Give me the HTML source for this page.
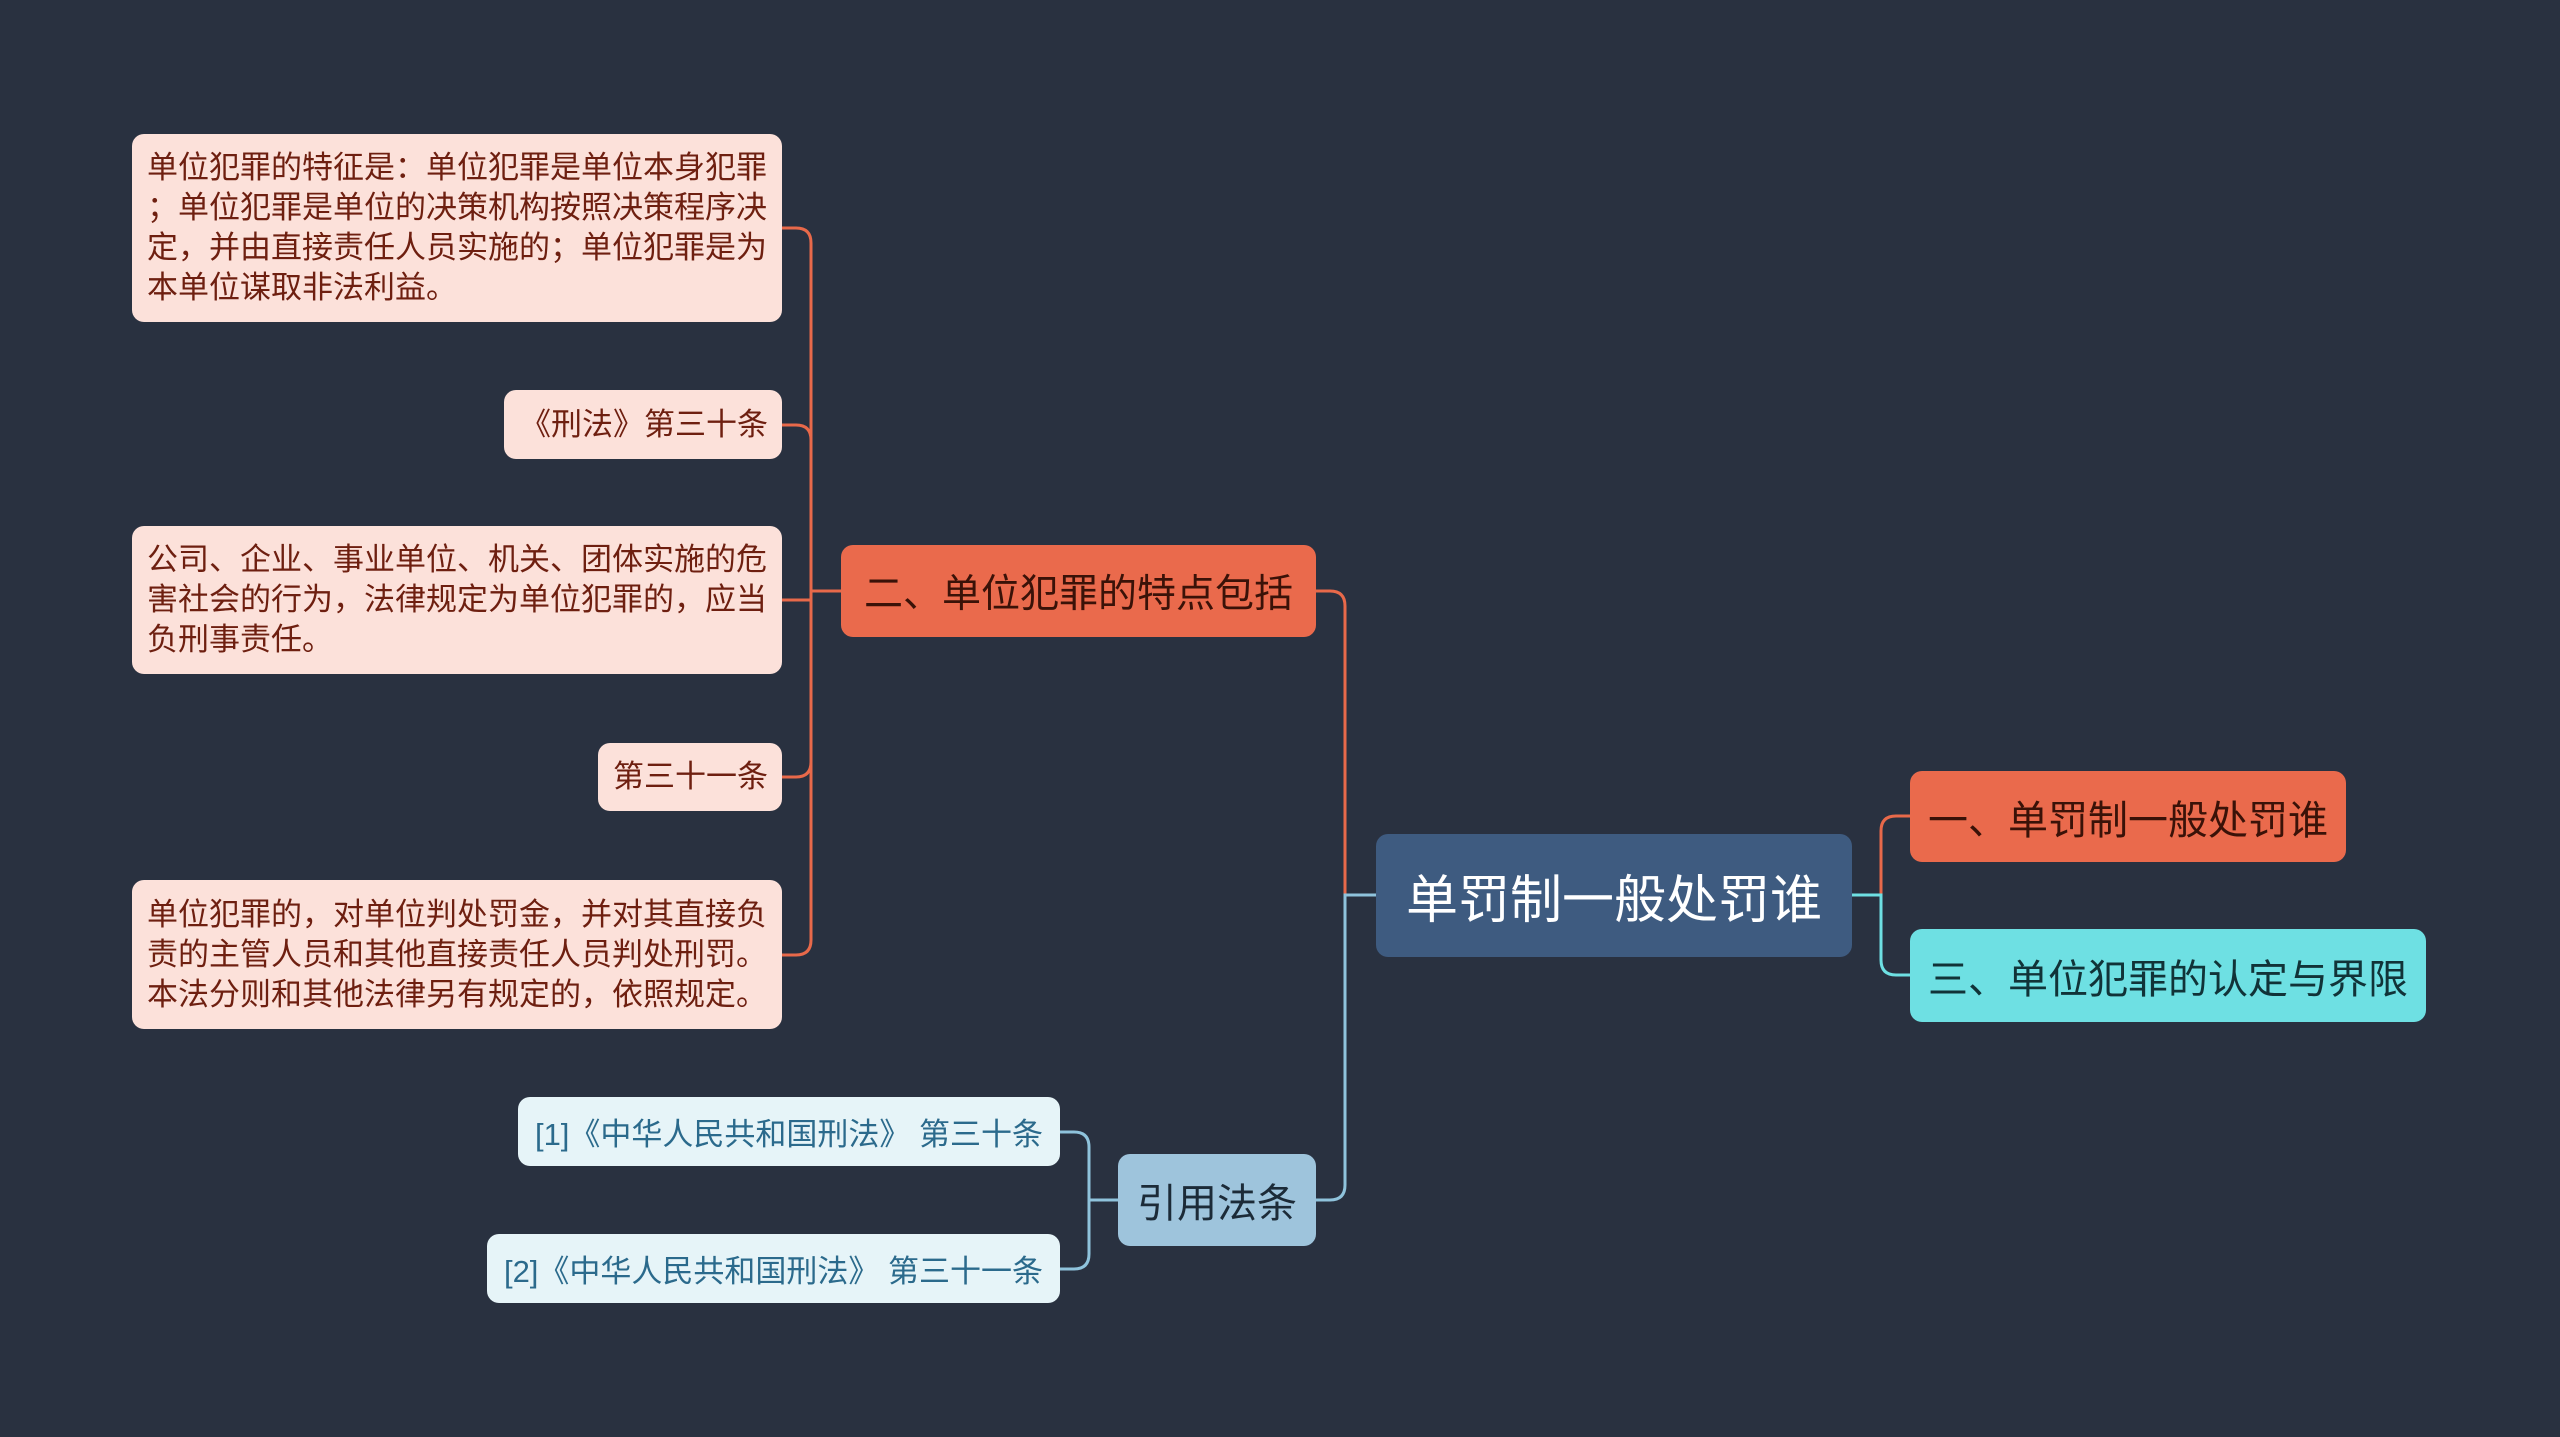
<!DOCTYPE html>
<html><head><meta charset="utf-8"><style>
body{margin:0;width:2560px;height:1437px;background:#293140;overflow:hidden;position:relative;font-family:"Liberation Sans","Noto Sans CJK SC",sans-serif}
.n{position:absolute;box-sizing:border-box;border-radius:12px;display:flex;align-items:center;white-space:nowrap}
.l{background:#fce1da;color:#6e1f10;font-size:31px;line-height:40px;padding:0 14px 0 15px;justify-content:flex-end;text-align:left;white-space:normal}
.r{background:#e6f4f8;color:#2b6a8c;font-size:31px;justify-content:center}
svg{position:absolute;left:0;top:0}
</style></head><body>
<svg width="2560" height="1437" fill="none" stroke-width="3">
<g stroke="#e8694a">
<path d="M782 228 H796 Q811 228 811 243 V940 Q811 955 796 955 H782"/>
<path d="M782 425 H796 Q811 425 811 440"/>
<path d="M782 600 H811 M782 777 H796 Q811 777 811 762 M841 591 H811"/>
<path d="M1316 591 H1330 Q1345 591 1345 606 V895 H1376"/>
<path d="M1852 895 H1881 V831 Q1881 816 1896 816 H1910"/>
</g>
<path stroke="#8fc3dc" d="M1376 895 H1345 V1185 Q1345 1200 1330 1200 H1316"/>
<path stroke="#6ee0e3" d="M1852 895 H1881 V960 Q1881 975 1896 975 H1910"/>
<path stroke="#8fc3dc" d="M1060 1132 H1074 Q1089 1132 1089 1147 V1254 Q1089 1269 1074 1269 H1060 M1089 1200 H1118"/>
</svg>
<div class="n l" style="left:132px;top:134px;width:650px;height:188px;justify-content:flex-start;white-space:nowrap"><div>单位犯罪的特征是：单位犯罪是单位本身犯罪<br>；单位犯罪是单位的决策机构按照决策程序决<br>定，并由直接责任人员实施的；单位犯罪是为<br>本单位谋取非法利益。</div></div>
<div class="n l" style="left:504px;top:390px;width:278px;height:69px">《刑法》第三十条</div>
<div class="n l" style="left:132px;top:526px;width:650px;height:148px;justify-content:flex-start">公司、企业、事业单位、机关、团体实施的危害社会的行为，法律规定为单位犯罪的，应当负刑事责任。</div>
<div class="n l" style="left:598px;top:743px;width:184px;height:68px">第三十一条</div>
<div class="n l" style="left:132px;top:880px;width:650px;height:149px;justify-content:flex-start">单位犯罪的，对单位判处罚金，并对其直接负责的主管人员和其他直接责任人员判处刑罚。本法分则和其他法律另有规定的，依照规定。</div>
<div class="n" style="left:841px;top:545px;width:475px;height:92px;background:#ea6a4c;color:#3a1208;font-size:39px;justify-content:center">二、单位犯罪的特点包括</div>
<div class="n" style="left:1376px;top:834px;width:476px;height:123px;background:#3e5b80;color:#fff;font-size:52px;justify-content:center">单罚制一般处罚谁</div>
<div class="n" style="left:1910px;top:771px;width:436px;height:91px;background:#ea6a4c;color:#3a1208;font-size:40px;justify-content:center">一、单罚制一般处罚谁</div>
<div class="n" style="left:1910px;top:929px;width:516px;height:93px;background:#6ee0e3;color:#113338;font-size:40px;justify-content:center">三、单位犯罪的认定与界限</div>
<div class="n" style="left:1118px;top:1154px;width:198px;height:92px;background:#9ec4dc;color:#1c2b38;font-size:40px;justify-content:center">引用法条</div>
<div class="n r" style="left:518px;top:1097px;width:542px;height:69px">[1]《中华人民共和国刑法》 第三十条</div>
<div class="n r" style="left:487px;top:1234px;width:573px;height:69px">[2]《中华人民共和国刑法》 第三十一条</div>
</body></html>
